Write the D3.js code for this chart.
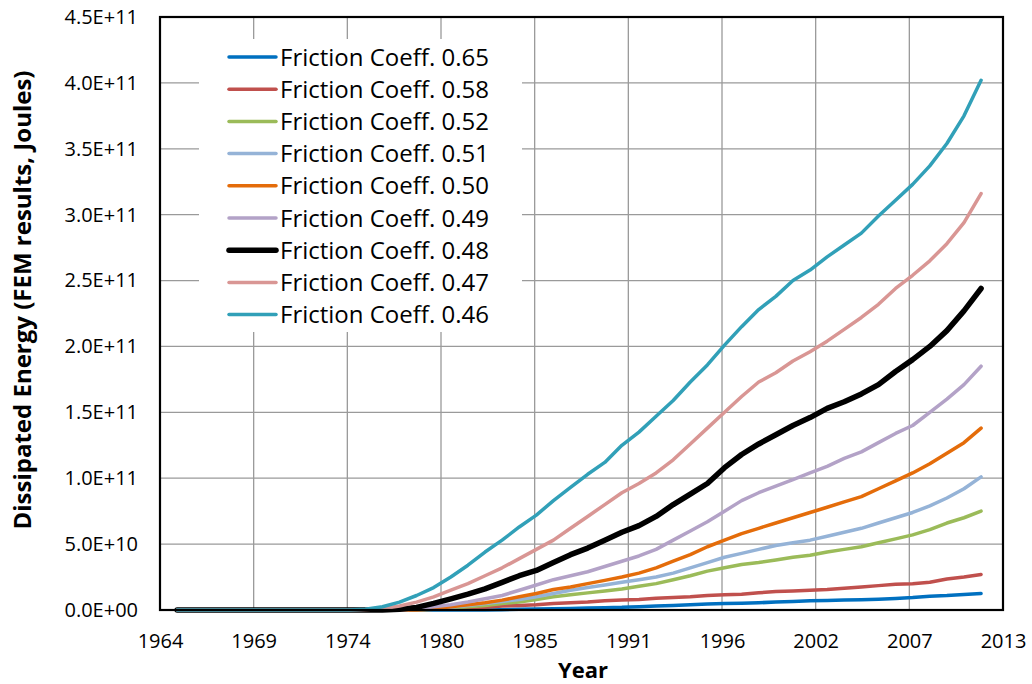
<!DOCTYPE html>
<html><head><meta charset="utf-8">
<script src="https://cdn.jsdelivr.net/npm/d3@7"></script>
<style>body{margin:0;background:#fff}svg{display:block}text{font-family:"Open Sans","Noto Sans",sans-serif;fill:#000}</style>
</head><body><svg id="c" width="1032" height="684"></svg>
<script>
// Years of the data points (Jan 1)
const years = d3.range(1965, 2013);
const pre = [0,0,0,0,0,0,0,0,0,0,0]; // 1965-1975
// values in units of 1e10 J
const c065 = pre.concat([0,0,0,0,0,0,0,0,0.02,0.05,0.08,0.1,0.12,0.15,0.18,0.2,0.25,0.3,0.35,0.4,0.45,0.5,0.52,0.55,0.6,0.65,0.7,0.72,0.75,0.78,0.82,0.88,0.95,1.05,1.1,1.18,1.25]);
const c058 = pre.concat([0,0,0,0,0.05,0.1,0.15,0.2,0.3,0.35,0.4,0.5,0.55,0.6,0.7,0.75,0.8,0.9,0.95,1.0,1.1,1.15,1.2,1.3,1.4,1.45,1.5,1.55,1.65,1.75,1.85,1.95,2.0,2.1,2.35,2.5,2.7]);
const c052 = pre.concat([0,0,0,0,0.05,0.15,0.25,0.35,0.5,0.6,0.8,1.0,1.15,1.3,1.45,1.6,1.8,2.0,2.3,2.6,2.95,3.2,3.45,3.6,3.8,4.0,4.15,4.4,4.6,4.8,5.1,5.4,5.7,6.1,6.6,7.0,7.5]);
const c051 = pre.concat([0,0,0,0,0.1,0.2,0.35,0.5,0.65,0.8,1.0,1.25,1.5,1.7,1.9,2.1,2.3,2.5,2.8,3.2,3.6,4.0,4.3,4.6,4.9,5.1,5.3,5.6,5.9,6.2,6.6,7.0,7.4,7.9,8.5,9.2,10.1]);
const c050 = pre.concat([0,0,0,0,0.1,0.25,0.4,0.55,0.75,1.0,1.25,1.55,1.75,2.0,2.25,2.5,2.8,3.2,3.7,4.2,4.8,5.3,5.8,6.2,6.6,7.0,7.4,7.8,8.2,8.6,9.2,9.8,10.4,11.1,11.9,12.7,13.8]);
const c049 = pre.concat([0,0,0,0.1,0.25,0.4,0.6,0.85,1.1,1.5,1.9,2.3,2.6,2.9,3.3,3.7,4.1,4.6,5.3,6.0,6.7,7.5,8.3,8.9,9.4,9.9,10.4,10.9,11.5,12.0,12.7,13.4,14.0,15.0,16.0,17.1,18.5]);
const c048 = pre.concat([0,0,0.05,0.2,0.5,0.85,1.2,1.6,2.1,2.6,3.0,3.6,4.2,4.7,5.3,5.9,6.4,7.1,8.0,8.8,9.6,10.8,11.8,12.6,13.3,14.0,14.6,15.3,15.8,16.4,17.1,18.1,19.0,20.0,21.2,22.7,24.4]);
const c047 = pre.concat([0.03,0.1,0.3,0.6,1.0,1.5,2.0,2.6,3.2,3.9,4.6,5.3,6.2,7.1,8.0,8.9,9.6,10.4,11.4,12.6,13.8,15.0,16.2,17.3,18.0,18.9,19.6,20.4,21.3,22.2,23.2,24.4,25.4,26.5,27.8,29.4,31.6]);
const c046 = pre.concat([0.05,0.25,0.6,1.1,1.7,2.5,3.4,4.4,5.3,6.3,7.2,8.3,9.3,10.3,11.2,12.5,13.5,14.7,15.9,17.3,18.6,20.1,21.5,22.8,23.8,25.0,25.8,26.8,27.7,28.6,29.9,31.1,32.3,33.7,35.4,37.5,40.2]);
const unit = 1e10;

const seriesNames = ["Friction Coeff. 0.65","Friction Coeff. 0.58","Friction Coeff. 0.52","Friction Coeff. 0.51","Friction Coeff. 0.50","Friction Coeff. 0.49","Friction Coeff. 0.48","Friction Coeff. 0.47","Friction Coeff. 0.46"];
const seriesValues = [c065,c058,c052,c051,c050,c049,c048,c047,c046];
const seriesColors = ["#0070C0","#C0504D","#9BBB59","#95B3D7","#E46C0A","#B3A2C7","#000000","#D99694","#31A0B8"];
const seriesWidths = [3.5,3.5,3.5,3.5,3.5,3.5,5.5,3.5,3.5];

const xTickLabels = ["1964","1969","1974","1980","1985","1991","1996","2002","2007","2013"];
const yTicks = [0,5e10,1e11,1.5e11,2e11,2.5e11,3e11,3.5e11,4e11,4.5e11];

const DAY = 86400000;
const t0 = Date.UTC(1964,0,1);
const svg = d3.select("#c");
const L=160, R=1003, T=17, B=610;
const x = d3.scaleTime().domain([new Date(t0), new Date(t0+18000*DAY)]).range([L,R]);
const y = d3.scaleLinear().domain([0,4.5e11]).range([B,T]);
const xTicks = xTickLabels.map((s,i)=>new Date(t0+i*2000*DAY));

// gridlines
const g = svg.append("g");
g.selectAll(".gx").data(xTicks).join("line").attr("x1",d=>x(d)).attr("x2",d=>x(d)).attr("y1",T).attr("y2",B).attr("stroke","#9a9a9a").attr("stroke-width",1.3);
g.selectAll(".gy").data(yTicks).join("line").attr("x1",L).attr("x2",R).attr("y1",d=>y(d)).attr("y2",d=>y(d)).attr("stroke","#9a9a9a").attr("stroke-width",1.3);

// legend background
svg.append("rect").attr("x",199).attr("y",39).attr("width",323).attr("height",293).attr("fill","#fff");

// lines
const line = d3.line().x((d,i)=>x(new Date(Date.UTC(years[i],0,1)))).y(d=>y(d*unit));
seriesValues.forEach((vals,k)=>{
  svg.append("path").datum(vals).attr("d",line).attr("fill","none")
    .attr("stroke",seriesColors[k]).attr("stroke-width",seriesWidths[k])
    .attr("stroke-linejoin","round").attr("stroke-linecap","round");
});

// frame
svg.append("rect").attr("x",L).attr("y",T).attr("width",R-L).attr("height",B-T).attr("fill","none").attr("stroke","#000").attr("stroke-width",2.2);

// axes labels
const fmt = v => { const s=v.toExponential(1).toUpperCase(); return s.replace(/E([+-])(\d)$/,"E$10$2"); };
const xAxis = d3.axisBottom(x).tickValues(xTicks).tickFormat((d,i)=>xTickLabels[i]).tickSize(0).tickPadding(24);
const xa = svg.append("g").attr("transform",`translate(0,${B})`).call(xAxis);
xa.select(".domain").remove();
xa.selectAll("text").attr("font-size",20).attr("font-family","'Open Sans',sans-serif").attr("fill","#000");
const yAxis = d3.axisLeft(y).tickValues(yTicks).tickFormat(fmt).tickSize(0).tickPadding(22);
const ya = svg.append("g").attr("transform",`translate(${L},0)`).call(yAxis);
ya.select(".domain").remove();
ya.selectAll("text").attr("font-size",20).attr("font-family","'Open Sans',sans-serif").attr("fill","#000");

svg.append("text").attr("x",583).attr("y",678).attr("text-anchor","middle").attr("font-size",22).attr("font-weight","bold").text("Year");
svg.append("text").attr("transform","translate(31,300) rotate(-90)").attr("text-anchor","middle").attr("font-size",24).attr("font-weight","bold").text("Dissipated Energy (FEM results, Joules)");

// legend
const lg = svg.append("g");
seriesNames.forEach((n,i)=>{
  const yy = 57 + i*32.2;
  lg.append("line").attr("x1",229).attr("x2",276).attr("y1",yy).attr("y2",yy).attr("stroke",seriesColors[i]).attr("stroke-width",seriesWidths[i]).attr("stroke-linecap","round");
  lg.append("text").attr("x",280).attr("y",yy).attr("dy","0.36em").attr("font-size",24).text(n);
});
</script></body></html>
